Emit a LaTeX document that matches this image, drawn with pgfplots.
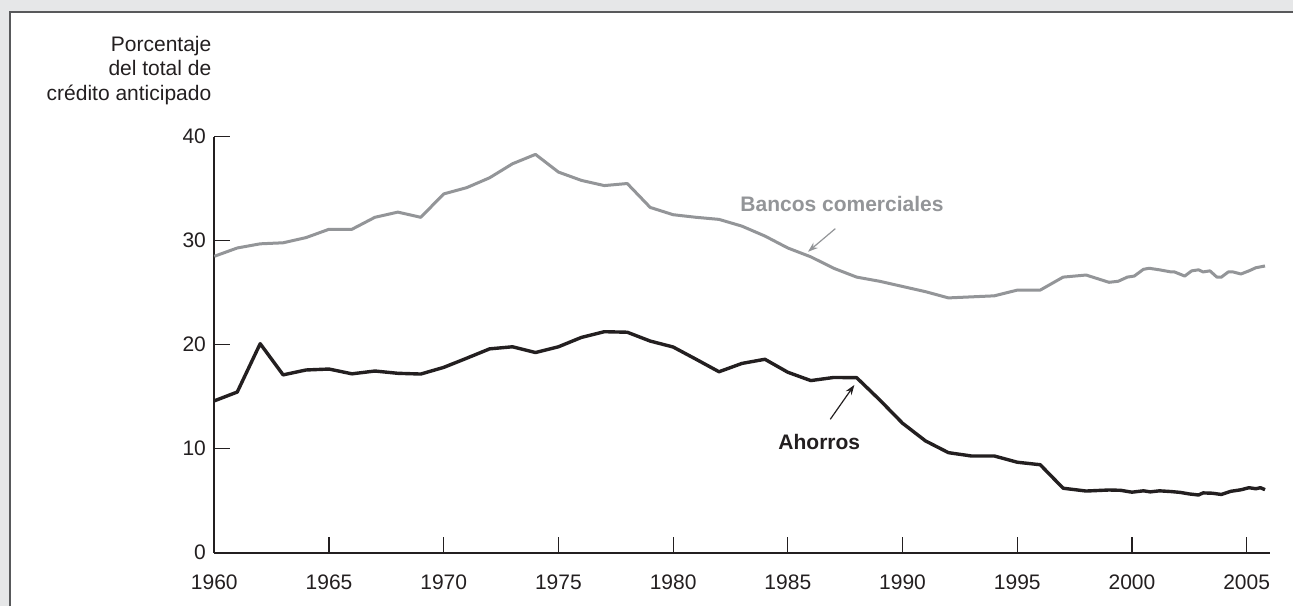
\documentclass[border=0pt]{standalone}
\usepackage{fontspec}
\setmainfont{Liberation Sans}
\usepackage{pgfplots}
\pgfplotsset{compat=1.18}
\usetikzlibrary{arrows.meta}

\definecolor{bgpanel}{HTML}{E6E7E8}
\definecolor{framegray}{HTML}{58595B}
\definecolor{linegray}{HTML}{939598}
\definecolor{inkblack}{HTML}{231F20}

\begin{document}
\begin{tikzpicture}[font=\fontsize{10.5}{12.1}\selectfont, text=inkblack]
\useasboundingbox (0,0) rectangle (646.5pt,303pt);
\fill[bgpanel] (0,0) rectangle (646.5pt,303pt);
\fill[white] (5pt,0) rectangle (646.5pt,296.75pt);
\draw[framegray, line width=1pt] (5pt,0) -- (5pt,296.75pt) -- (646.5pt,296.75pt);

% y axis title, set flat and right aligned above the axis
\node[anchor=north east, align=right, inner sep=0pt] at (105.85pt,285pt)
  {Porcentaje\\del total de\\crédito anticipado};

\begin{axis}[
    at={(107.15pt,26.65pt)}, anchor=south west,
    scale only axis, width=527.65pt, height=208pt,
    xmin=1960, xmax=2006, ymin=0, ymax=40,
    axis x line=bottom, axis y line=left,
    axis line style={-, line width=1pt, color=inkblack},
    every outer x axis line/.append style={-},
    every outer y axis line/.append style={-},
    xtick={1960,1965,...,2005},
    ytick={0,10,20,30,40},
    tick align=inside,
    major tick length=8pt,
    tick style={line width=0.6pt, color=inkblack},
    /pgf/number format/1000 sep={},
    /pgf/number format/assume math mode=true,
    xticklabel style={anchor=north, inner sep=0pt, yshift=-11pt,
      font=\fontsize{10.5}{12}\selectfont},
    yticklabel style={anchor=east, inner sep=0pt, xshift=-4pt,
      font=\fontsize{10.5}{12}\selectfont},
    clip=false,
]
% Bancos comerciales
\addplot[color=linegray, line width=1.5pt, line join=round] coordinates {
  (1960,28.5) (1961,29.3) (1962,29.7) (1963,29.8) (1964,30.3)
  (1965,31.1) (1966,31.1) (1967,32.25) (1968,32.75) (1969,32.25)
  (1970,34.5) (1971,35.1) (1972,36.05) (1973,37.4) (1974,38.3)
  (1975,36.6) (1976,35.8) (1977,35.3) (1978,35.5) (1979,33.2)
  (1980,32.5) (1981,32.25) (1982,32.05) (1983,31.4) (1984,30.45)
  (1985,29.3) (1986,28.45) (1987,27.35) (1988,26.5) (1989,26.1)
  (1990,25.6) (1991,25.1) (1992,24.5) (1993,24.6) (1994,24.7)
  (1995,25.25) (1996,25.25) (1997,26.5) (1998,26.7) (1999,26.0)
  (1999.4,26.1) (1999.8,26.5) (2000.1,26.6) (2000.5,27.25) (2000.75,27.35)
  (2001.2,27.2) (2001.7,27.0) (2001.85,27.0) (2002.3,26.6) (2002.6,27.1)
  (2002.9,27.2) (2003.1,27.0) (2003.4,27.1) (2003.7,26.5) (2003.9,26.5)
  (2004.2,27.0) (2004.4,27.0) (2004.75,26.8) (2005.1,27.1) (2005.4,27.4)
  (2005.8,27.57)
};
% Ahorros
\addplot[color=inkblack, line width=1.7pt, line join=round] coordinates {
  (1960,14.6) (1961,15.45) (1962,20.1) (1963,17.1) (1964,17.57)
  (1965,17.66) (1966,17.2) (1967,17.47) (1968,17.25) (1969,17.18)
  (1970,17.82) (1971,18.7) (1972,19.6) (1973,19.8) (1974,19.25)
  (1975,19.8) (1976,20.7) (1977,21.25) (1978,21.2) (1979,20.35)
  (1980,19.78) (1981,18.6) (1982,17.4) (1983,18.2) (1984,18.6)
  (1985,17.35) (1986,16.55) (1987,16.85) (1988,16.83) (1989,14.7)
  (1990,12.45) (1991,10.75) (1992,9.62) (1993,9.3) (1994,9.3)
  (1995,8.7) (1996,8.46) (1997,6.2) (1998,5.93) (1999,6.03)
  (1999.5,6.0) (2000,5.82) (2000.5,5.95) (2000.8,5.85) (2001.2,5.95)
  (2001.7,5.88) (2002.1,5.8) (2002.5,5.65) (2002.9,5.55) (2003.1,5.75)
  (2003.5,5.72) (2003.9,5.6) (2004.3,5.9) (2004.75,6.05) (2005.1,6.25)
  (2005.4,6.15) (2005.6,6.25) (2005.8,6.06)
};

\node[anchor=base, text=linegray, font=\fontsize{10.5}{12}\selectfont\bfseries]
  at (axis cs:1987.36,32.79) {Bancos comerciales};
\draw[linegray, line width=0.6pt, -{Stealth[length=5pt,width=3.5pt]}]
  (axis cs:1987.07,31.16) -- (axis cs:1985.88,28.94);

\node[anchor=base, font=\fontsize{10.5}{12}\selectfont\bfseries]
  at (axis cs:1986.37,9.97) {Ahorros};
\draw[inkblack, line width=0.6pt, -{Stealth[length=5pt,width=3.5pt]}]
  (axis cs:1986.85,12.83) -- (axis cs:1987.9,16.13);
\end{axis}
\end{tikzpicture}
\end{document}
